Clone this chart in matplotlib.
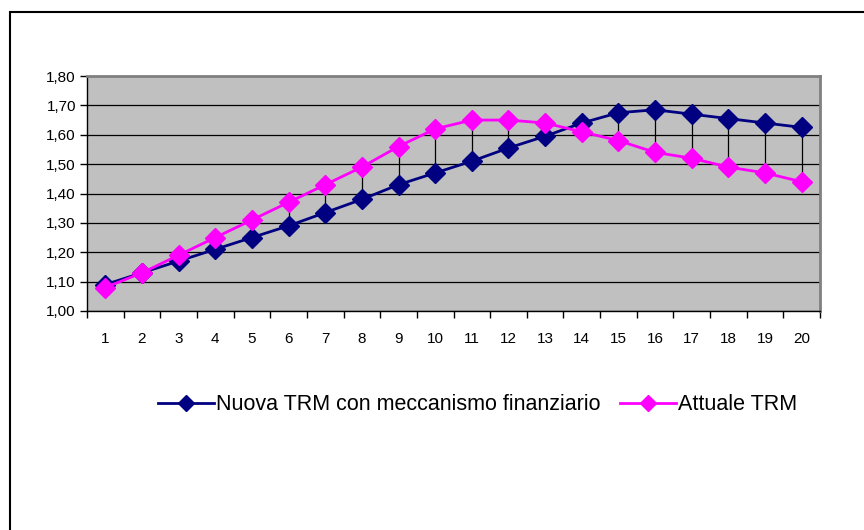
# TRM: confronto tra nuova TRM con meccanismo finanziario e TRM attuale
import matplotlib.pyplot as plt
import numpy as np
from matplotlib.patches import Rectangle
from matplotlib.ticker import FixedLocator

plt.rcParams['font.family'] = ['Liberation Sans', 'DejaVu Sans']

# DATA
anni = list(range(1, 21))
nuova_trm = [1.09, 1.13, 1.17, 1.21, 1.25, 1.29, 1.335, 1.38, 1.43, 1.47,
             1.51, 1.555, 1.595, 1.64, 1.675, 1.685, 1.67, 1.655, 1.64, 1.625]
attuale_trm = [1.08, 1.13, 1.19, 1.25, 1.31, 1.37, 1.43, 1.49, 1.56, 1.62,
               1.65, 1.65, 1.64, 1.61, 1.58, 1.54, 1.52, 1.49, 1.47, 1.44]
y_ticks = [1.00, 1.10, 1.20, 1.30, 1.40, 1.50, 1.60, 1.70, 1.80]

fig = plt.figure(figsize=(8.64, 5.30), dpi=100)
# cornice esterna
fig.patches.append(Rectangle((10/864, -1), 2, 2 - 12/530, transform=fig.transFigure,
                             fill=False, edgecolor='black', linewidth=1.5))

ax = fig.add_axes([87/864, 1 - 311/530, (820 - 87)/864, (311 - 76)/530])
ax.set_facecolor('#C0C0C0')

x = np.array(anni)
ax.vlines(x, np.minimum(nuova_trm, attuale_trm), np.maximum(nuova_trm, attuale_trm),
          colors='black', linewidth=0.9, zorder=2)
ax.plot(x, nuova_trm, color='#000080', linewidth=2, marker='D', markersize=10.5,
        label='Nuova TRM con meccanismo finanziario', zorder=3)
ax.plot(x, attuale_trm, color='#FF00FF', linewidth=2, marker='D', markersize=10.5,
        label='Attuale TRM', zorder=4)

ax.set_xlim(0.5, 20.5)
ax.set_ylim(1.0, 1.8)
ax.set_yticks(y_ticks)
ax.set_yticklabels([f'{v:.2f}'.replace('.', ',') for v in y_ticks])
ax.yaxis.grid(True, color='black', linewidth=0.9)
ax.set_axisbelow(True)

ax.xaxis.set_major_locator(FixedLocator(np.arange(0.5, 21, 1)))
ax.xaxis.set_major_formatter(plt.NullFormatter())
ax.xaxis.set_minor_locator(FixedLocator(x))
ax.set_xticklabels([str(a) for a in anni], minor=True)
ax.tick_params(axis='x', which='major', direction='out', length=5, width=1)
ax.tick_params(axis='x', which='minor', length=0, pad=15, labelsize=11)
ax.tick_params(axis='y', direction='out', length=5, width=1, labelsize=11, pad=3)

for s in ['left', 'bottom']:
    ax.spines[s].set_color('black')
    ax.spines[s].set_linewidth(1)
for s in ['top', 'right']:
    ax.spines[s].set_color('#808080')
    ax.spines[s].set_linewidth(2)

fig.legend(loc='center', bbox_to_anchor=(478/864, 1 - 405/530), ncol=2, frameon=False,
           fontsize=15.5, handlelength=2.6, handletextpad=0.1, columnspacing=0.9,
           markerscale=0.75)

fig.savefig('out.png', dpi=100)
